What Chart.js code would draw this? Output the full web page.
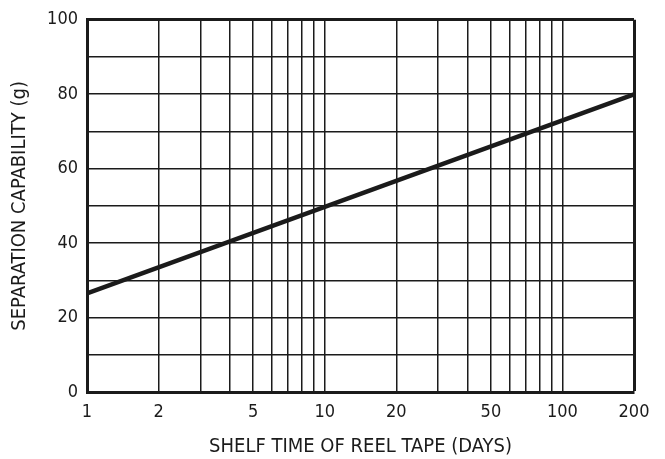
<!DOCTYPE html>
<html>
<head>
<meta charset="utf-8">
<script src="https://cdn.jsdelivr.net/npm/chart.js@4/dist/chart.umd.min.js"></script>
<style>
  html, body { margin: 0; padding: 0; background: #fff; }
  #wrap { width: 665px; height: 459px; }
</style>
</head>
<body>
<div id="wrap"><canvas id="chart" width="665" height="459"></canvas></div>
<script>
// shelf time (days) and separation capability (g)
const shelfDays = [1, 200];
const separation = [26.5, 80];

const xGridValues = [1, 2, 3, 4, 5, 6, 7, 8, 9, 10, 20, 30, 40, 50, 60, 70, 80, 90, 100, 200];
const xTickLabels = [1, 2, 5, 10, 20, 50, 100, 200];
const yTickLabels = [0, 20, 40, 60, 80, 100];

const ink = '#1b1b1b';
const fontFam = '"DejaVu Sans Condensed", "Liberation Sans Narrow", Arial, sans-serif';

new Chart(document.getElementById('chart'), {
    type: 'line',
    data: {
        datasets: [{
            data: shelfDays.map((d, i) => ({ x: d, y: separation[i] })),
            borderColor: ink,
            borderWidth: 4.5,
            pointRadius: 0,
            tension: 0
        }]
    },
    options: {
        responsive: false,
        animation: false,
        layout: { padding: { top: 14, right: 31, left: 0, bottom: 0 } },
        plugins: { legend: { display: false }, tooltip: { enabled: false } },
        scales: {
            x: {
                type: 'logarithmic',
                min: 1,
                max: 200,
                afterBuildTicks: s => { s.ticks = xGridValues.map(v => ({ value: v })); },
                afterFit: s => { s.height = 67; },
                ticks: {
                    autoSkip: false,
                    maxRotation: 0,
                    color: ink,
                    padding: 10,
                    font: { family: fontFam, size: 18 },
                    callback: v => xTickLabels.includes(v) ? String(v) : ''
                },
                grid: {
                    color: ink,
                    lineWidth: c => (c.tick && c.tick.value === 200) ? 3 : 1.5,
                    drawTicks: false
                },
                border: { display: true, color: ink, width: 3 },
                title: {
                    display: true,
                    text: 'SHELF TIME OF REEL TAPE (DAYS)',
                    color: ink,
                    font: { family: fontFam, size: 20 },
                    padding: { top: 3, bottom: 0 }
                }
            },
            y: {
                min: 0,
                max: 100,
                afterBuildTicks: s => {
                    const t = [];
                    for (let v = 0; v <= 100; v += 10) t.push({ value: v });
                    s.ticks = t;
                },
                afterFit: s => { s.width = 87; },
                ticks: {
                    autoSkip: false,
                    color: ink,
                    padding: 9,
                    font: { family: fontFam, size: 18 },
                    callback: v => yTickLabels.includes(v) ? String(v) : ''
                },
                grid: {
                    color: ink,
                    lineWidth: c => (c.tick && c.tick.value === 100) ? 3 : 1.5,
                    drawTicks: false
                },
                border: { display: true, color: ink, width: 3 },
                title: {
                    display: true,
                    text: 'SEPARATION CAPABILITY (g)',
                    color: ink,
                    font: { family: fontFam, size: 20 },
                    padding: { top: 8, bottom: 6 }
                }
            }
        }
    }
});
</script>
</body>
</html>
